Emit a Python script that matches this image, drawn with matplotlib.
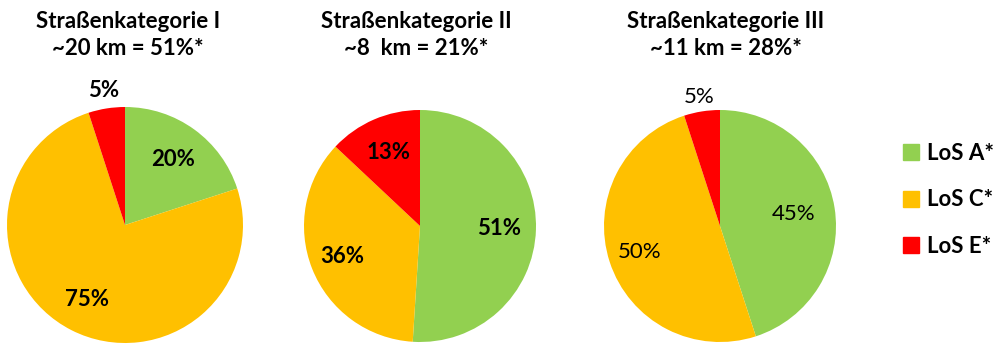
import matplotlib
matplotlib.use('Agg')
from matplotlib import pyplot as plt
from matplotlib.patches import Patch
import numpy as np

plt.rcParams['font.family'] = ['Lato', 'DejaVu Sans']

# shares per road category (LoS A, LoS C, LoS E)
categories = ['LoS A*', 'LoS C*', 'LoS E*']
titles = ['Straßenkategorie I\n~20 km = 51%*',
          'Straßenkategorie II\n~8  km = 21%*',
          'Straßenkategorie III\n~11 km = 28%*']
shares_1 = [20, 75, 5]
shares_2 = [51, 36, 13]
shares_3 = [45, 50, 5]
colors = ['#92D050', '#FFC000', '#FF0000']

W, H = 1000, 344
fig = plt.figure(figsize=(W / 100, H / 100), dpi=100)

# pie centres / radius in pixels, label distances (fraction of radius)
centres = [(125, 225, 118), (420, 226, 116), (720, 226, 116)]
label_dist = [[0.69, 0.71, 1.15], [0.68, 0.72, 0.69], [0.64, 0.73, 1.13]]
label_weight = ['bold', 'bold', 'normal']
title_x = [128, 416, 726]

for i, shares in enumerate([shares_1, shares_2, shares_3]):
    cx, cy, r = centres[i]
    ax = fig.add_axes([(cx - r) / W, (H - cy - r) / H, 2 * r / W, 2 * r / H])
    wedges, _ = ax.pie(shares, colors=colors, startangle=90, counterclock=False,
                       radius=1, wedgeprops=dict(linewidth=0))
    ax.set_xlim(-1, 1)
    ax.set_ylim(-1, 1)
    ax.set_aspect('auto')
    ax.axis('off')
    for w, v, d in zip(wedges, shares, label_dist[i]):
        mid = np.deg2rad((w.theta1 + w.theta2) / 2)
        ax.text(d * np.cos(mid), d * np.sin(mid), '%d%%' % v, ha='center', va='center',
                fontsize=16, fontweight=label_weight[i], clip_on=False)
    fig.text(title_x[i] / W, 1 - 35 / H, titles[i], ha='center', va='center',
             fontsize=16, fontweight='bold', linespacing=1.35)

handles = [Patch(color=c) for c in colors]
leg = fig.legend(handles, categories, loc='center left', bbox_to_anchor=(903 / W, 1 - 200 / H),
                 frameon=False, borderaxespad=0, borderpad=0,
                 handlelength=0.72, handleheight=0.72, handletextpad=0.35,
                 labelspacing=1.15, prop=dict(size=16, weight='bold'))

plt.savefig('out.png', dpi=100)
